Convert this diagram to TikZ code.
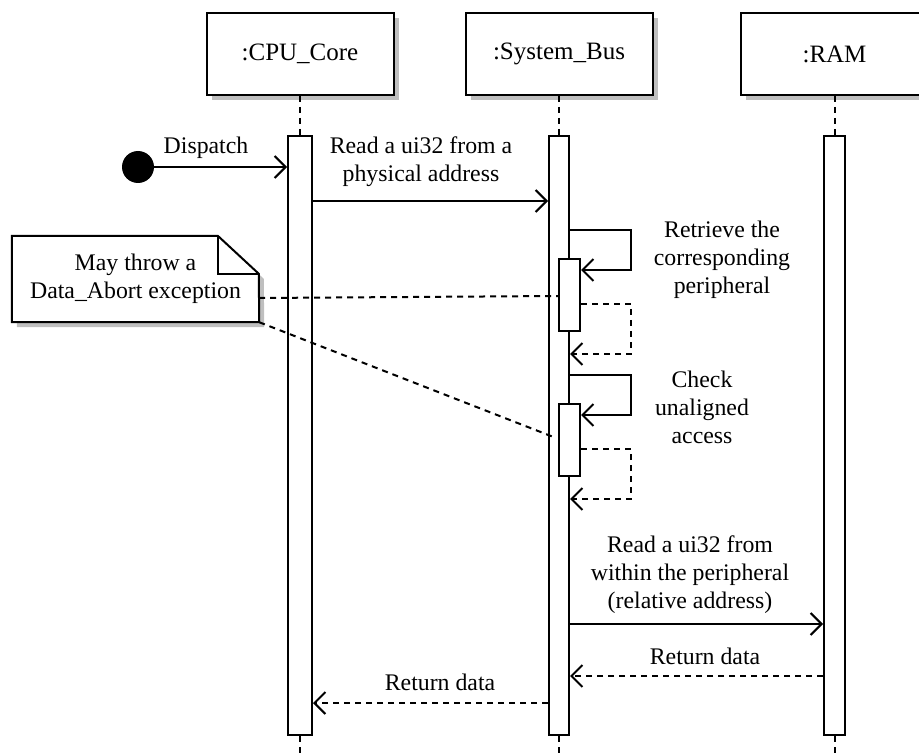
\documentclass[tikz,border=0pt]{standalone}
\usepackage{fontspec}
\setmainfont{Liberation Serif}
\usetikzlibrary{arrows.meta,shadows}
\tikzstyle{lifeBox}=[draw, line width=2pt, fill=white, minimum width=187pt, minimum height=82pt, inner sep=0pt, font=\fontsize{25}{28}\selectfont, drop shadow={shadow xshift=5pt, shadow yshift=-5pt, fill=black!25, opacity=1}]
\tikzstyle{actBar}=[draw, line width=2pt, fill=white, minimum width=22pt, inner sep=0pt]
\tikzstyle{msgLabel}=[align=center, font=\fontsize{23.8}{28}\selectfont, inner sep=0pt]
\tikzstyle{call}=[line width=2pt, -{Straight Barb[length=11pt, width=22pt]}]
\tikzstyle{reply}=[call, dash pattern=on 6pt off 5pt]
\tikzstyle{lifeLine}=[line width=2pt, dash pattern=on 6pt off 5pt]

\begin{document}
\begin{tikzpicture}[x=1pt, y=-1pt]
\useasboundingbox (0,0) rectangle (919,754);
% lifeline heads
\node[lifeBox] (cpu) at (300,54) {:CPU\_Core};
\node[lifeBox] (bus) at (559,54) {:System\_Bus};
\node[lifeBox] (ram) at (834.5,54) {:RAM};
% activations
\node[actBar, minimum width=24pt, minimum height=599pt] (cpuAct) at (300,435.5) {};
\node[actBar, minimum width=20pt, minimum height=599pt] (busAct) at (559,435.5) {};
\node[actBar, minimum width=21pt, minimum height=599pt] (ramAct) at (834.5,435.5) {};
\coordinate (cpuEnd) at (300,754);
\coordinate (busEnd) at (559,754);
\coordinate (ramEnd) at (834.5,754);
\draw[lifeLine] (cpu.south) -- (cpuAct.north);
\draw[lifeLine] (bus.south) -- (busAct.north);
\draw[lifeLine] (ram.south) -- (ramAct.north);
\draw[lifeLine] (cpuAct.south) -- (cpuEnd);
\draw[lifeLine] (busAct.south) -- (busEnd);
\draw[lifeLine] (ramAct.south) -- (ramEnd);
% found message
\node[circle, fill, inner sep=0pt, minimum size=32pt] (start) at (138,167) {};
\node[msgLabel] (lblDispatch) at (206,148) {Dispatch};
\draw[call] (start) -- (cpuAct.west |- start);
% read from physical address
\node[msgLabel] (lblRead) at (421,162) {Read a ui32 from a\\physical address};
\draw[call] (cpuAct.east |- 0,201) -- (busAct.west |- 0,201);
% retrieve peripheral
\node[actBar, minimum width=21pt, minimum height=72pt] (busSub1) at (569.5,295) {};
\node[msgLabel] (lblRetrieve) at (722,260) {Retrieve the\\corresponding\\peripheral};
\draw[call] (busAct.east |- 0,230) -- ++(61,0) |- (busSub1.east |- 0,270);
\draw[reply] (busSub1.east |- 0,304) -- ++(50,0) |- (busAct.east |- 0,354);
% check alignment
\node[actBar, minimum width=21pt, minimum height=72pt] (busSub2) at (569.5,440) {};
\node[msgLabel] (lblCheck) at (702,407) {Check\\unaligned\\access};
\draw[call] (busAct.east |- 0,375) -- ++(61,0) |- (busSub2.east |- 0,415);
\draw[reply] (busSub2.east |- 0,449) -- ++(50,0) |- (busAct.east |- 0,499);
% note
\node[msgLabel, minimum width=247pt, minimum height=86pt] (note) at (135.5,279) {May throw a\\Data\_Abort exception};
\fill[black!25] ([shift={(5,5)}]note.north west) ++(206,0) -- ++(41,38) -- ([shift={(5,5)}]note.south east) -- ([shift={(5,5)}]note.south west) -- ([shift={(5,5)}]note.north west) -- cycle;
\draw[line width=2pt, fill=white] (note.north west) -- ++(206,0) -- ++(41,38) -- (note.south east) -- (note.south west) -- cycle;
\draw[line width=2pt] ([xshift=206pt]note.north west) -- ++(0,38) -- ++(41,0);
\node[msgLabel] at (note) {May throw a\\Data\_Abort exception};
\draw[lifeLine] (note.east |- 0,298) -- (busSub1.west |- 0,296);
\draw[lifeLine] (note.south east) -- (556,438);
% read from RAM
\node[msgLabel] (lblReadRam) at (690,575) {Read a ui32 from\\within the peripheral\\(relative address)};
\draw[call] (busAct.east |- 0,624) -- (ramAct.west |- 0,624);
% replies
\node[msgLabel] (lblRetRam) at (705,656) {Return data};
\draw[reply] (ramAct.west |- 0,676) -- (busAct.east |- 0,676);
\node[msgLabel] (lblRetBus) at (440,682) {Return data};
\draw[reply] (busAct.west |- 0,703) -- (cpuAct.east |- 0,703);
\end{tikzpicture}
\end{document}
